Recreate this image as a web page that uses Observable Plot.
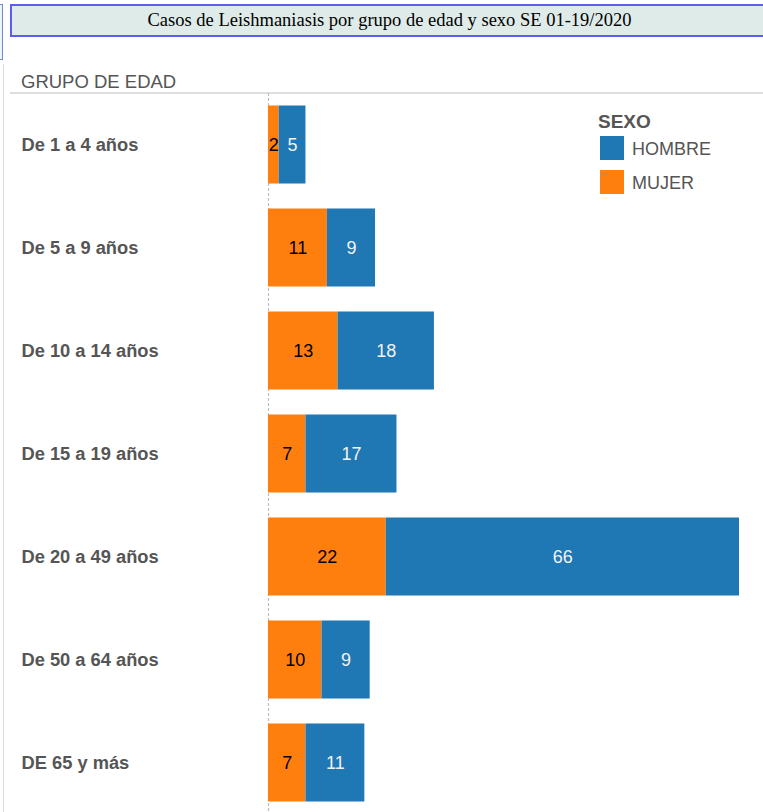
<!DOCTYPE html>
<html>
<head>
<meta charset="utf-8">
<script src="https://cdn.jsdelivr.net/npm/d3@7"></script>
<script src="https://cdn.jsdelivr.net/npm/@observablehq/plot@0.6"></script>
<style>
  html, body { margin: 0; padding: 0; background: #fff; }
  #wrap { position: relative; width: 763px; height: 812px; overflow: hidden; font-family: "Liberation Sans", Arial, sans-serif; }
  .abs { position: absolute; }
  #title { left: 10px; top: 4px; width: 755px; height: 29px; background: #dfebe8; border: 2px solid #5a5cf2;
           font-family: "Liberation Serif", "Times New Roman", serif; font-size: 18.5px; color: #000;
           display: flex; align-items: center; justify-content: center; }
  #frag { left: -20px; top: 4px; width: 21px; height: 54px; border: 1.5px solid #6a8fd0; background: #eef3f7; }
  #vline { left: 3px; top: 64px; width: 1px; height: 760px; background: #dcdcdc; }
  #header { left: 21px; top: 71px; font-size: 18.5px; color: #555; }
  #hline { left: 10px; top: 92px; width: 753px; height: 2px; background: #dedede; }
  #chart { left: 0; top: 93px; }
  .legtitle { font-weight: bold; font-size: 19px; color: #555; }
  .sw { width: 24px; height: 24px; }
  .leglab { font-size: 18px; color: #555; }
</style>
</head>
<body>
<div id="wrap">
  <div class="abs" id="frag"></div>
  <div class="abs" id="vline"></div>
  <div class="abs" id="title">Casos de Leishmaniasis por grupo de edad y sexo SE 01-19/2020</div>
  <div class="abs" id="header">GRUPO DE EDAD</div>
  <div class="abs" id="hline"></div>
  <div class="abs" id="chart"></div>
  <div class="abs legtitle" style="left:598px; top:111px;">SEXO</div>
  <div class="abs sw" style="left:600px; top:136px; background:#1f77b4;"></div>
  <div class="abs leglab" style="left:632px; top:139px;">HOMBRE</div>
  <div class="abs sw" style="left:600px; top:170px; background:#ff7f0e;"></div>
  <div class="abs leglab" style="left:632px; top:173px;">MUJER</div>
</div>
<script>
const grupos = ["De 1 a 4 años", "De 5 a 9 años", "De 10 a 14 años", "De 15 a 19 años", "De 20 a 49 años", "De 50 a 64 años", "DE 65 y más"];
const mujer = [2, 11, 13, 7, 22, 10, 7];
const hombre = [5, 9, 18, 17, 66, 9, 11];
const sexos = ["MUJER", "HOMBRE"];
const colores = {MUJER: "#ff7f0e", HOMBRE: "#1f77b4"};
const textoColores = {MUJER: "#000000", HOMBRE: "#f2f2f2"};

const rows = [];
grupos.forEach((g, i) => rows.push({grupo: g, sexo: "MUJER", value: mujer[i]}));
grupos.forEach((g, i) => rows.push({grupo: g, sexo: "HOMBRE", value: hombre[i]}));

const chart = Plot.plot({
  width: 763,
  height: 721,
  marginLeft: 268,
  marginRight: 24,
  marginTop: 0,
  marginBottom: 0,
  x: {domain: [0, 88], axis: null},
  y: {domain: grupos, axis: null, padding: 0, round: false},
  color: {type: "identity"},
  style: {fontFamily: "'Liberation Sans', Arial, sans-serif", background: "transparent", overflow: "visible"},
  marks: [
    Plot.ruleX([0], {stroke: "#bdbdbd", strokeDasharray: "3,2", strokeWidth: 1.2}),
    Plot.barX(rows, Plot.stackX({
      x: "value", y: "grupo", z: "sexo",
      fill: d => colores[d.sexo],
      insetTop: 12.5, insetBottom: 12.5
    })),
    Plot.text(rows, Plot.stackX({
      x: "value", y: "grupo", z: "sexo",
      text: d => String(d.value),
      fill: d => textoColores[d.sexo],
      fontSize: 18
    })),
    Plot.text(grupos, {
      y: d => d, text: d => d,
      frameAnchor: "left", textAnchor: "start", dx: -247,
      fontWeight: "bold", fontSize: 18.3, fill: "#555"
    })
  ]
});
document.getElementById("chart").appendChild(chart);
</script>
</body>
</html>
